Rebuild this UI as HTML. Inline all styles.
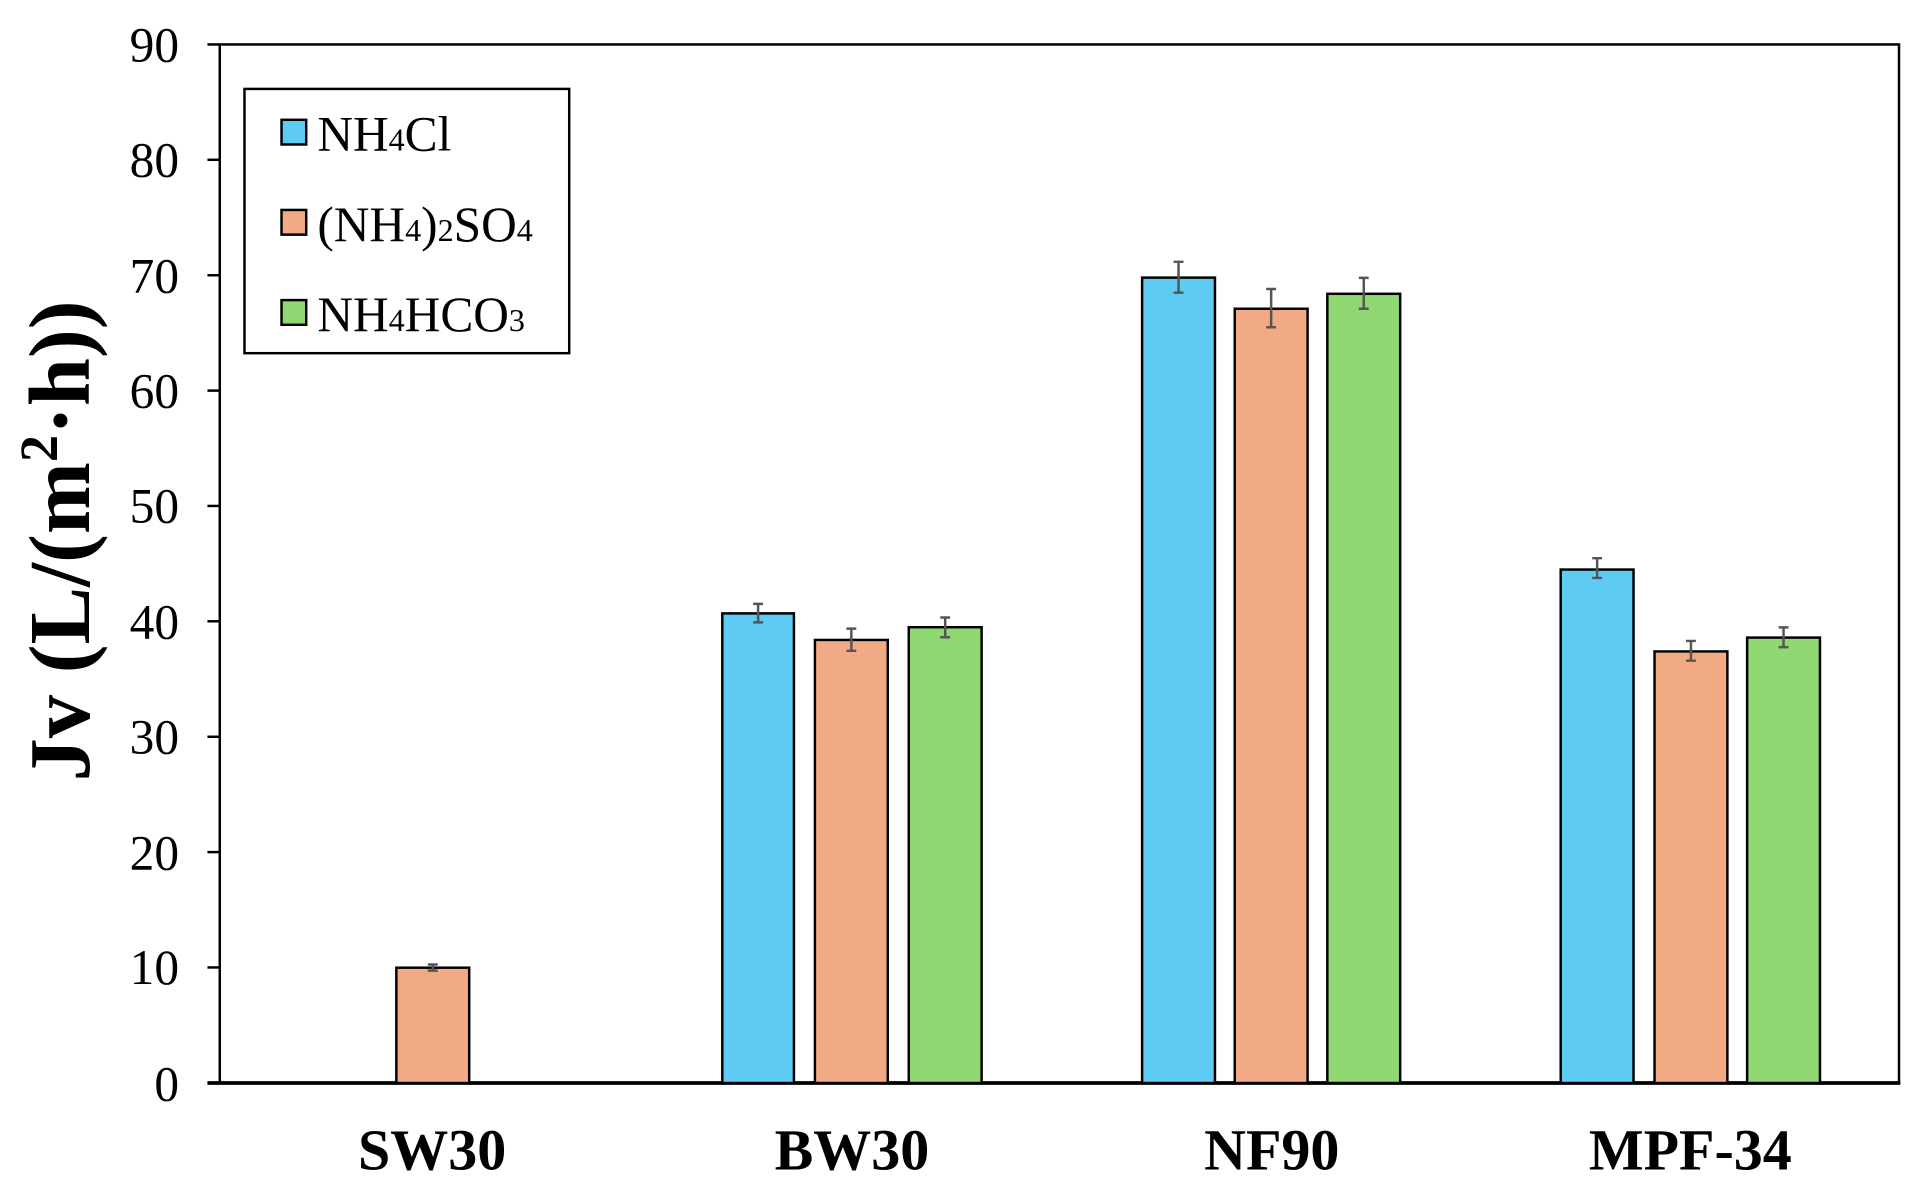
<!DOCTYPE html>
<html><head><meta charset="utf-8"><style>
html,body{margin:0;padding:0;background:#fff;}
svg{display:block;}
text{font-family:"Liberation Serif",serif;}
</style></head><body>
<svg width="1920" height="1188" viewBox="0 0 1555 962" preserveAspectRatio="none" xmlns="http://www.w3.org/2000/svg">
<rect width="1555" height="962" fill="#fff"/>
<rect x="178" y="36" width="1360" height="841" fill="none" stroke="#000" stroke-width="2"/>
<line x1="168" y1="877" x2="1539" y2="877" stroke="#000" stroke-width="3"/>
<g stroke="#000" stroke-width="2">
<line x1="168" y1="36" x2="178" y2="36"/><line x1="168" y1="129.4" x2="178" y2="129.4"/>
<line x1="168" y1="222.9" x2="178" y2="222.9"/><line x1="168" y1="316.3" x2="178" y2="316.3"/>
<line x1="168" y1="409.7" x2="178" y2="409.7"/><line x1="168" y1="503.1" x2="178" y2="503.1"/>
<line x1="168" y1="596.6" x2="178" y2="596.6"/><line x1="168" y1="690" x2="178" y2="690"/>
<line x1="168" y1="783.4" x2="178" y2="783.4"/>
</g>
<g font-size="40" text-anchor="end" fill="#000">
<text x="145" y="50">90</text><text x="145" y="143">80</text><text x="145" y="237">70</text>
<text x="145" y="330">60</text><text x="145" y="423">50</text><text x="145" y="517">40</text>
<text x="145" y="610">30</text><text x="145" y="704">20</text><text x="145" y="797">10</text>
<text x="145" y="891">0</text>
</g>
<g stroke="#000" stroke-width="2">
<rect x="321" y="783.6" width="59" height="93.4" fill="#F2AA84"/>
<rect x="585" y="496.7" width="58" height="380.3" fill="#5ECBF2"/>
<rect x="660" y="518.2" width="59" height="358.8" fill="#F2AA84"/>
<rect x="736" y="507.9" width="59" height="369.1" fill="#8FD872"/>
<rect x="925" y="224.8" width="59" height="652.2" fill="#5ECBF2"/>
<rect x="1000" y="250.0" width="59" height="627" fill="#F2AA84"/>
<rect x="1075" y="237.9" width="59" height="639.1" fill="#8FD872"/>
<rect x="1264" y="461.2" width="59" height="415.8" fill="#5ECBF2"/>
<rect x="1340" y="527.5" width="59" height="349.5" fill="#F2AA84"/>
<rect x="1415" y="516.3" width="59" height="360.7" fill="#8FD872"/>
</g>
<g stroke="#555" stroke-width="2">
<path d="M350.5 781v5M346.5 781h8M346.5 786h8"/>
<path d="M614 489v15M610 489h8M610 504h8"/>
<path d="M689.5 509v18M685.5 509h8M685.5 527h8"/>
<path d="M765.5 500v16M761.5 500h8M761.5 516h8"/>
<path d="M954.5 212v25M950.5 212h8M950.5 237h8"/>
<path d="M1029.5 234v31M1025.5 234h8M1025.5 265h8"/>
<path d="M1104.5 225v25M1100.5 225h8M1100.5 250h8"/>
<path d="M1293.5 452v16M1289.5 452h8M1289.5 468h8"/>
<path d="M1369.5 519v16M1365.5 519h8M1365.5 535h8"/>
<path d="M1444.5 508v16M1440.5 508h8M1440.5 524h8"/>
</g>
<g font-size="47" font-weight="bold" text-anchor="middle" fill="#000">
<text x="350" y="947">SW30</text><text x="690" y="947">BW30</text>
<text x="1030" y="947">NF90</text><text x="1369" y="947">MPF-34</text>
</g>
<text transform="translate(72,438) rotate(-90)" font-size="70" font-weight="bold" text-anchor="middle">Jv (L/(m<tspan font-size="44" dy="-26">2</tspan><tspan dy="26">·h))</tspan></text>
<rect x="198" y="72" width="263" height="214" fill="#fff" stroke="#000" stroke-width="2"/>
<g stroke="#000" stroke-width="2">
<rect x="228" y="97" width="20" height="20" fill="#5ECBF2"/>
<rect x="228" y="170" width="20" height="20" fill="#F2AA84"/>
<rect x="228" y="243" width="20" height="20" fill="#8FD872"/>
</g>
<g font-size="40" fill="#000">
<text x="257" y="122">NH<tspan font-size="26">4</tspan>Cl</text>
<text x="257" y="195">(NH<tspan font-size="26">4</tspan>)<tspan font-size="26">2</tspan>SO<tspan font-size="26">4</tspan></text>
<text x="257" y="268">NH<tspan font-size="26">4</tspan>HCO<tspan font-size="26">3</tspan></text>
</g>
</svg>
</body></html>
